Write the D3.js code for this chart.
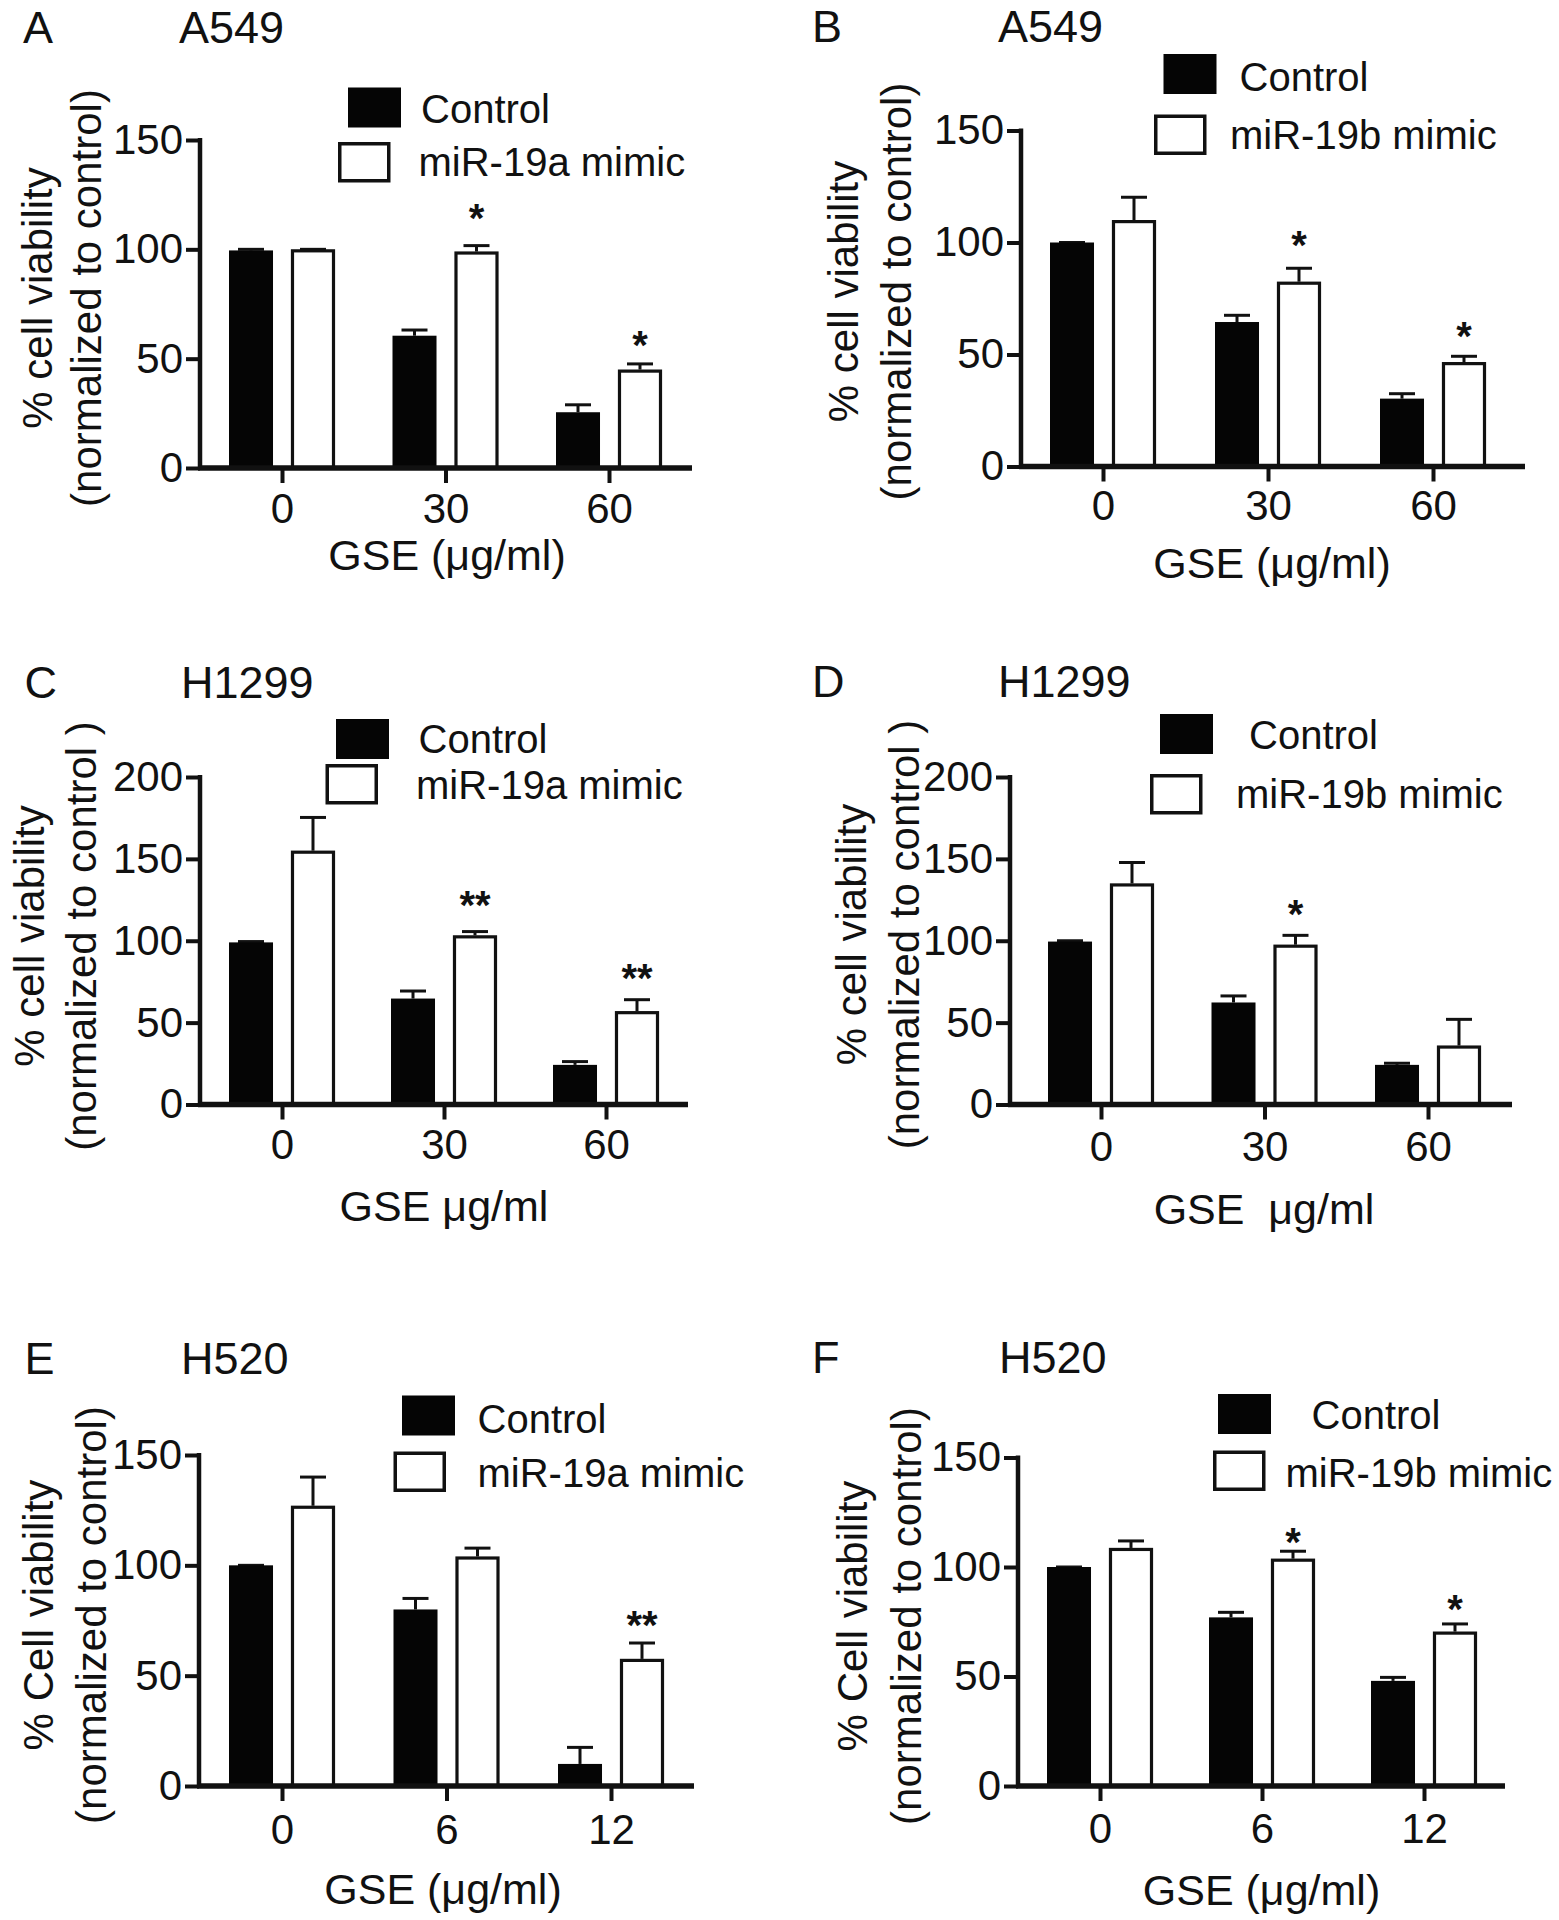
<!DOCTYPE html>
<html><head><meta charset="utf-8">
<script src="https://cdn.jsdelivr.net/npm/d3@7"></script>
<style>
html,body{margin:0;padding:0;background:#fff;}
svg{display:block;}
text{font-family:"Liberation Sans",Arial,Helvetica,sans-serif;fill:#111;}
</style></head>
<body>
<script>
// ---------------- data ----------------
const seriesNames = ["Control", "mimic"];
const dosesA549 = ["0", "30", "60"];
const dosesH1299 = ["0", "30", "60"];
const dosesH520 = ["0", "6", "12"];
const ticks150 = [0, 50, 100, 150];
const ticks200 = [0, 50, 100, 150, 200];

// Panel A: A549, miR-19a
const ctrlA = [99.5, 60.5, 25.5], ctrlErrA = [0.5, 2.6, 3.4];
const mimA  = [100, 99, 45],      mimErrA  = [0, 2.7, 2.6];
const starsA = ["", "*", "*"];
// Panel B: A549, miR-19b
const ctrlB = [100, 64.5, 30.3],  ctrlErrB = [0, 3, 2.2];
const mimB  = [110, 82.5, 46.6],  mimErrB  = [10.2, 6, 2.6];
const starsB = ["", "*", "*"];
// Panel C: H1299, miR-19a
const ctrlC = [99, 64.7, 24.2],   ctrlErrC = [0.5, 4.6, 2];
const mimC  = [155, 103.3, 57],   mimErrC  = [20.3, 2.3, 7];
const starsC = ["", "**", "**"];
// Panel D: H1299, miR-19b
const ctrlD = [99.5, 62.3, 24.2], ctrlErrD = [0.5, 4, 1];
const mimD  = [135, 97.6, 36],    mimErrD  = [12.8, 5.7, 16];
const starsD = ["", "*", ""];
// Panel E: H520, miR-19a
const ctrlE = [100, 80, 10],      ctrlErrE = [0, 5, 7.5];
const mimE  = [127, 104, 57.6],   mimErrE  = [13, 3.8, 7.2];
const starsE = ["", "", "**"];
// Panel F: H520, miR-19b
const ctrlF = [100, 77, 48],      ctrlErrF = [0, 2.3, 1.6];
const mimF  = [108.7, 103.8, 70.5], mimErrF = [3.2, 3.4, 3.5];
const starsF = ["", "*", "*"];

// text labels
const letters = ["A", "B", "C", "D", "E", "F"];
const cellLines = ["A549", "A549", "H1299", "H1299", "H520", "H520"];
const mimicLabels = ["miR-19a mimic", "miR-19b mimic", "miR-19a mimic", "miR-19b mimic", "miR-19a mimic", "miR-19b mimic"];
const yLabel1 = ["% cell viability", "% cell viability", "% cell viability", "% cell viability", "% Cell viability", "% Cell viability"];
const yLabel2 = ["(normalized to control)", "(normalized to control)", "(normalized to control )", "(normalized to control )", "(normalized to control)", "(normalized to control)"];
const xTitles = ["GSE (\u03bcg/ml)", "GSE (\u03bcg/ml)", "GSE \u03bcg/ml", "GSE  \u03bcg/ml", "GSE (\u03bcg/ml)", "GSE (\u03bcg/ml)"];

// ---------------- layout (positions only) ----------------
const layout = [
  {ax:200, ae:692, t0:282, t2:609, yTop:140, y0:468, lx:23, tx:179, ly:42.5,
   leg:{bx:348, by:87.5, wx:338, wy:142, cx:421, cy:123, mx:418.5, my:175.5},
   yl:{x1:37, x2:85.5, yc:298}, xt:{x:447, y:570}, tickY:523, starGap:[0,36,27]},
  {ax:1021, ae:1525, t0:1103, t2:1433, yTop:130.5, y0:466.5, lx:812, tx:998, ly:42,
   leg:{bx:1163.5, by:54, wx:1154, wy:114.5, cx:1239.5, cy:91, mx:1230, my:149},
   yl:{x1:842.5, x2:896, yc:291.5}, xt:{x:1272, y:578}, tickY:520, starGap:[0,31,28]},
  {ax:200, ae:688, t0:282, t2:606, yTop:777, y0:1104.5, lx:24.5, tx:181, ly:698,
   leg:{bx:336, by:719, wx:325.5, wy:764, cx:418.5, cy:753, mx:416, my:798.5},
   yl:{x1:28.5, x2:80.5, yc:936}, xt:{x:444, y:1221}, tickY:1159, starGap:[0,35,30]},
  {ax:1010, ae:1512, t0:1101, t2:1428, yTop:777, y0:1104.5, lx:812, tx:998, ly:697,
   leg:{bx:1160, by:714, wx:1150, wy:774, cx:1249, cy:749, mx:1236, my:808},
   yl:{x1:850.5, x2:904, yc:934.5}, xt:{x:1264, y:1224}, tickY:1161, starGap:[0,29,0]},
  {ax:199, ae:694, t0:282, t2:611, yTop:1455, y0:1786, lx:24.5, tx:181, ly:1374,
   leg:{bx:402, by:1395.5, wx:393.5, wy:1451.5, cx:477.5, cy:1432.5, mx:477.5, my:1486.5},
   yl:{x1:38, x2:91, yc:1615}, xt:{x:443, y:1904}, tickY:1844, starGap:[0,0,26]},
  {ax:1018, ae:1505, t0:1100, t2:1424, yTop:1457.5, y0:1786, lx:812, tx:999, ly:1373,
   leg:{bx:1218, by:1394, wx:1213, wy:1450.5, cx:1311.5, cy:1429, mx:1285.5, my:1486.5},
   yl:{x1:852, x2:905.5, yc:1616}, xt:{x:1261.5, y:1905}, tickY:1843, starGap:[0,17,23]}
];

const panelData = [
  {doses:dosesA549, ticks:ticks150, ctrl:ctrlA, ctrlErr:ctrlErrA, mim:mimA, mimErr:mimErrA, stars:starsA},
  {doses:dosesA549, ticks:ticks150, ctrl:ctrlB, ctrlErr:ctrlErrB, mim:mimB, mimErr:mimErrB, stars:starsB},
  {doses:dosesH1299, ticks:ticks200, ctrl:ctrlC, ctrlErr:ctrlErrC, mim:mimC, mimErr:mimErrC, stars:starsC},
  {doses:dosesH1299, ticks:ticks200, ctrl:ctrlD, ctrlErr:ctrlErrD, mim:mimD, mimErr:mimErrD, stars:starsD},
  {doses:dosesH520, ticks:ticks150, ctrl:ctrlE, ctrlErr:ctrlErrE, mim:mimE, mimErr:mimErrE, stars:starsE},
  {doses:dosesH520, ticks:ticks150, ctrl:ctrlF, ctrlErr:ctrlErrF, mim:mimF, mimErr:mimErrF, stars:starsF}
];

const svg = d3.select("body").append("svg").attr("width", 1559).attr("height", 1920)
  .attr("viewBox", "0 0 1559 1920");
svg.append("rect").attr("width", 1559).attr("height", 1920).attr("fill", "#fff");

const FS = 42;
const INK = "#111";

panelData.forEach((pd, i) => {
  const L = layout[i];
  const g = svg.append("g");
  const y = d3.scaleLinear().domain([0, pd.ticks[pd.ticks.length - 1]]).range([L.y0, L.yTop]);
  const x = d3.scalePoint().domain(pd.doses).range([L.t0, L.t2]);
  const x1 = d3.scaleBand().domain(seriesNames).range([-53, 53]).paddingInner(0.29);

  const rows = [];
  pd.doses.forEach((d, j) => {
    rows.push({dose:d, s:"Control", v:pd.ctrl[j], e:pd.ctrlErr[j], star:"", j:j});
    rows.push({dose:d, s:"mimic", v:pd.mim[j], e:pd.mimErr[j], star:pd.stars[j], j:j});
  });

  // error bars (behind bars)
  const eb = g.append("g").attr("stroke", INK).attr("stroke-width", 3).attr("fill", "none");
  rows.forEach(r => {
    const cx = x(r.dose) + x1(r.s) + x1.bandwidth() / 2;
    eb.append("line").attr("x1", cx).attr("x2", cx).attr("y1", y(r.v)).attr("y2", y(r.v + r.e));
    eb.append("line").attr("x1", cx - 13).attr("x2", cx + 13).attr("y1", y(r.v + r.e)).attr("y2", y(r.v + r.e));
  });

  // bars
  g.append("g").selectAll("rect").data(rows).join("rect")
    .attr("x", r => x(r.dose) + x1(r.s) + (r.s === "mimic" ? 1.5 : 0))
    .attr("width", r => x1.bandwidth() - (r.s === "mimic" ? 3 : 0))
    .attr("y", r => y(r.v) + (r.s === "mimic" ? 1.5 : 0))
    .attr("height", r => L.y0 - y(r.v) - (r.s === "mimic" ? 1.5 : 0))
    .attr("fill", r => r.s === "Control" ? "#050505" : "#fff")
    .attr("stroke", r => r.s === "Control" ? "none" : INK)
    .attr("stroke-width", 3.2);

  // significance stars
  g.append("g").selectAll("text").data(rows.filter(r => r.star)).join("text")
    .attr("x", r => x(r.dose) + x1(r.s) + x1.bandwidth() / 2)
    .attr("y", r => y(r.v + r.e) - L.starGap[r.j] + 22)
    .attr("text-anchor", "middle").attr("font-size", 40).attr("font-weight", "bold")
    .text(r => r.star);

  // y axis
  const yAxis = d3.axisLeft(y).tickValues(pd.ticks).tickSize(14).tickPadding(3).tickFormat(d3.format("d"));
  const ya = g.append("g").attr("transform", `translate(${L.ax},0)`).call(yAxis);
  ya.select(".domain").remove();
  ya.selectAll(".tick line").attr("stroke", INK).attr("stroke-width", 4);
  ya.selectAll(".tick text").attr("font-size", FS).attr("font-family", "Liberation Sans, Arial, sans-serif").attr("fill", INK);
  g.append("line").attr("x1", L.ax).attr("x2", L.ax).attr("y1", y(pd.ticks[pd.ticks.length - 1]) - 2).attr("y2", L.y0)
    .attr("stroke", INK).attr("stroke-width", 4.5);

  // x axis
  const xAxis = d3.axisBottom(x).tickSize(15).tickPadding(0);
  const xa = g.append("g").attr("transform", `translate(0,${L.y0})`).call(xAxis);
  xa.select(".domain").remove();
  xa.selectAll(".tick line").attr("stroke", INK).attr("stroke-width", 4);
  xa.selectAll(".tick text").attr("font-size", FS).attr("font-family", "Liberation Sans, Arial, sans-serif").attr("fill", INK)
    .attr("dy", null).attr("y", L.tickY - L.y0);
  g.append("line").attr("x1", L.ax - 2).attr("x2", L.ae).attr("y1", L.y0).attr("y2", L.y0)
    .attr("stroke", INK).attr("stroke-width", 5.5);

  // panel letter and cell line
  g.append("text").attr("x", L.lx).attr("y", L.ly).attr("font-size", 45).text(letters[i]);
  g.append("text").attr("x", L.tx).attr("y", L.ly).attr("font-size", 45).text(cellLines[i]);

  // x title
  g.append("text").attr("x", L.xt.x).attr("y", L.xt.y).attr("text-anchor", "middle").attr("font-size", 43)
    .style("white-space", "pre").text(xTitles[i]);

  // y label (two rotated lines)
  g.append("text").attr("transform", `translate(${L.yl.x1},${L.yl.yc}) rotate(-90)`)
    .attr("text-anchor", "middle").attr("dy", "0.36em").attr("font-size", FS).text(yLabel1[i]);
  g.append("text").attr("transform", `translate(${L.yl.x2},${L.yl.yc}) rotate(-90)`)
    .attr("text-anchor", "middle").attr("dy", "0.36em").attr("font-size", FS).style("white-space", "pre").text(yLabel2[i]);

  // legend
  const lg = L.leg;
  g.append("rect").attr("x", lg.bx).attr("y", lg.by).attr("width", 53).attr("height", 40).attr("fill", "#050505");
  g.append("rect").attr("x", lg.wx + 1.75).attr("y", lg.wy + 1.75).attr("width", 49).attr("height", 37).attr("fill", "#fff")
    .attr("stroke", INK).attr("stroke-width", 3.5);
  g.append("text").attr("x", lg.cx).attr("y", lg.cy).attr("font-size", 40).text("Control");
  g.append("text").attr("x", lg.mx).attr("y", lg.my).attr("font-size", 40).text(mimicLabels[i]);
});
</script>
</body></html>
